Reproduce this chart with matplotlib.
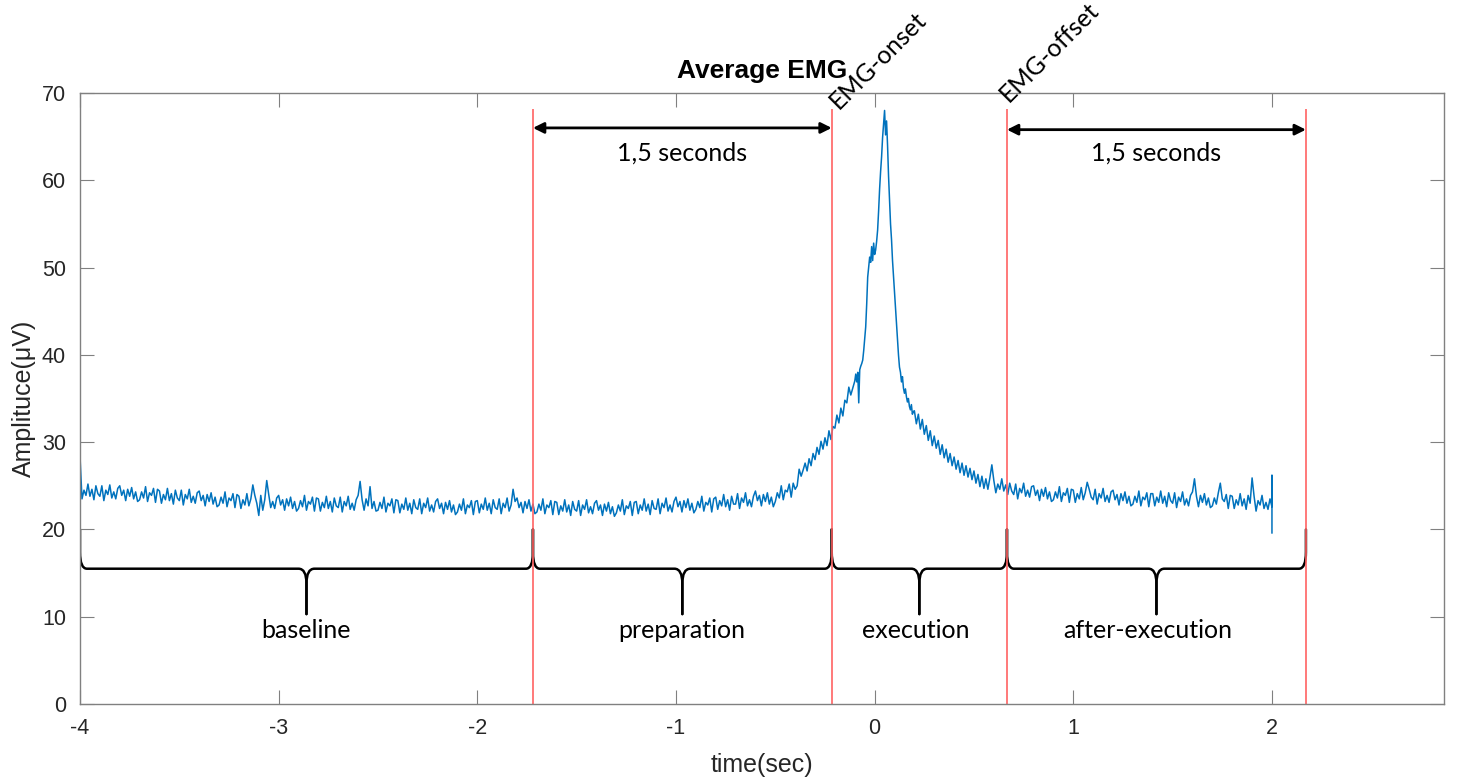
import matplotlib
matplotlib.use("Agg")
import matplotlib.pyplot as plt
from matplotlib.path import Path
from matplotlib.patches import PathPatch
import numpy as np

plt.rcParams["font.family"] = ["Liberation Sans", "DejaVu Sans"]
plt.rcParams["axes.unicode_minus"] = False

# averaged EMG trace (uV)
# -4.00 .. -0.12 s, 0.01 s apart
emg_pre = [
    28.4, 23.5, 24.5, 23.9, 25.2, 23.8, 24.6, 23.4, 25.0, 24.1,
    23.8, 25.0, 23.3, 24.5, 24.0, 25.1, 23.6, 24.3, 23.5, 24.7,
    25.0, 23.9, 24.5, 23.3, 24.6, 23.8, 24.8, 23.5, 24.3, 23.2,
    23.4, 24.3, 23.6, 24.9, 23.2, 24.2, 23.9, 24.7, 23.1, 24.6,
    24.4, 23.0, 24.0, 23.4, 24.7, 23.3, 24.1, 22.9, 24.5, 23.6,
    23.3, 24.5, 22.8, 24.0, 23.5, 24.6, 23.1, 23.8, 23.0, 24.2,
    24.4, 23.3, 23.9, 22.7, 24.0, 23.2, 24.2, 22.9, 23.7, 22.6,
    22.8, 23.7, 23.0, 24.3, 22.6, 23.6, 23.3, 24.1, 22.5, 24.0,
    23.8, 22.4, 23.4, 22.8, 24.1, 22.7, 23.5, 25.1, 23.9, 23.0,
    21.6, 23.9, 22.2, 23.4, 25.6, 24.0, 22.5, 23.2, 22.4, 23.6,
    23.9, 22.8, 23.4, 22.2, 23.5, 22.7, 23.7, 22.4, 23.2, 22.1,
    22.4, 23.3, 22.6, 23.9, 22.2, 23.2, 22.9, 23.7, 22.1, 23.6,
    23.5, 22.1, 23.1, 22.5, 23.8, 22.4, 23.2, 22.0, 23.6, 22.7,
    22.5, 23.7, 22.0, 23.2, 22.7, 23.8, 22.3, 23.0, 22.2, 23.4,
    23.9, 25.5, 23.4, 22.2, 23.5, 22.7, 24.9, 22.4, 23.2, 22.1,
    22.2, 23.1, 22.4, 23.7, 22.0, 23.0, 22.7, 23.5, 21.9, 23.4,
    23.3, 21.9, 22.9, 22.3, 23.6, 22.2, 23.0, 21.8, 23.4, 22.5,
    22.3, 23.5, 21.8, 23.0, 22.5, 23.6, 22.1, 22.8, 22.0, 23.2,
    23.5, 22.4, 23.0, 21.8, 23.1, 22.3, 23.3, 22.0, 22.8, 21.7,
    22.0, 22.9, 22.2, 23.5, 21.8, 22.8, 22.5, 23.3, 21.7, 23.2,
    23.3, 21.9, 22.9, 22.3, 23.6, 22.2, 23.0, 21.8, 23.4, 22.5,
    22.3, 23.5, 21.8, 23.0, 22.5, 23.6, 22.1, 22.8, 24.6, 23.2,
    23.6, 22.5, 23.1, 21.9, 23.2, 22.4, 23.4, 22.1, 22.9, 21.8,
    22.0, 22.9, 22.2, 23.5, 21.8, 22.8, 22.5, 23.3, 21.7, 23.2,
    23.1, 21.7, 22.7, 22.1, 23.4, 22.0, 22.8, 21.6, 23.2, 22.3,
    22.1, 23.3, 21.6, 22.8, 22.3, 23.4, 21.9, 22.6, 21.8, 23.0,
    23.3, 22.2, 22.8, 21.6, 22.9, 22.1, 23.1, 21.8, 22.6, 21.5,
    21.9, 22.8, 22.1, 23.4, 21.7, 22.7, 22.4, 23.2, 21.6, 23.1,
    23.2, 21.8, 22.8, 22.2, 23.5, 22.1, 22.9, 21.7, 23.3, 22.4,
    22.3, 23.5, 21.8, 23.0, 22.5, 23.6, 22.1, 22.8, 22.0, 23.2,
    23.7, 22.6, 23.2, 22.0, 23.3, 22.5, 23.5, 22.2, 23.0, 21.9,
    22.3, 23.2, 22.5, 23.8, 22.1, 23.1, 22.8, 23.6, 22.0, 23.5,
    23.7, 22.3, 23.3, 22.7, 24.0, 22.6, 23.4, 22.2, 23.8, 22.9,
    22.9, 24.1, 22.4, 23.6, 23.1, 24.2, 22.7, 23.4, 22.6, 23.8,
    24.4, 23.3, 23.9, 22.7, 24.0, 23.2, 24.2, 22.9, 23.7, 22.6,
    23.2, 24.2, 23.6, 25.0, 23.4, 24.5, 24.3, 25.2, 23.7, 25.3,
    24.6, 25.0, 26.9, 26.1, 26.8, 27.6, 26.7, 28.1, 27.3, 28.7,
    28.0, 29.4, 28.6, 30.1, 29.2, 30.5, 29.6, 31.3, 30.3, 31.8,
    31.6, 33.1, 32.2, 33.9, 33.0, 34.8, 34.5, 36.3, 35.4,
]
# -0.100 .. 0.195 s, 0.005 s apart
emg_peak = [
    37.0, 37.8, 36.9, 38.0, 34.5, 38.3, 38.7, 39.0, 39.4, 40.5,
    41.8, 43.2, 45.8, 48.9, 50.0, 51.2, 50.6, 52.4, 50.8, 52.8,
    51.5, 52.0, 53.0, 54.3, 56.5, 59.0, 61.0, 62.7, 64.9, 66.5,
    68.0, 65.2, 66.8, 64.0, 60.5, 57.8, 55.0, 53.2, 50.8, 49.0,
    47.4, 45.6, 43.5, 42.0, 40.0, 38.6, 38.0, 36.9, 37.5, 36.2,
    35.6, 36.1, 35.2, 34.6, 35.0, 34.1, 33.7, 34.3, 33.2, 33.5,
]
# 0.20 .. 2.00 s, 0.01 s apart
emg_post = [
    33.6, 32.1, 33.2, 31.5, 32.6, 30.9, 31.9, 30.2, 31.3, 29.6,
    30.7, 29.3, 30.2, 28.6, 29.7, 28.2, 29.2, 27.7, 28.7, 27.3,
    28.3, 26.9, 27.9, 26.5, 27.6, 26.2, 27.3, 26.0, 27.0, 25.7,
    26.7, 25.3, 26.3, 24.9, 26.1, 24.7, 25.8, 24.6, 25.9, 27.4,
    25.6, 24.2, 25.2, 24.6, 25.8, 24.4, 25.1, 24.0, 25.3, 24.4,
    24.0, 25.2, 23.5, 24.7, 24.2, 25.3, 23.8, 24.5, 23.7, 24.9,
    25.0, 23.9, 24.5, 23.3, 24.6, 23.8, 24.8, 23.5, 24.3, 23.2,
    23.4, 24.3, 23.6, 24.9, 23.2, 24.2, 23.9, 24.7, 23.1, 24.6,
    24.5, 23.1, 24.1, 23.5, 24.8, 23.4, 24.2, 25.4, 24.6, 23.7,
    23.4, 24.6, 22.9, 24.1, 23.6, 24.7, 23.2, 23.9, 23.1, 24.3,
    24.5, 23.4, 24.0, 22.8, 24.1, 23.3, 24.3, 23.0, 23.8, 22.7,
    22.9, 23.8, 23.1, 24.4, 22.7, 23.7, 23.4, 24.2, 22.6, 24.1,
    24.1, 22.7, 23.7, 23.1, 24.4, 23.0, 23.8, 22.6, 24.2, 23.3,
    23.0, 24.2, 22.5, 23.7, 23.2, 24.3, 22.8, 23.5, 22.7, 23.9,
    24.3, 25.8, 23.8, 22.6, 23.9, 23.1, 24.1, 22.8, 23.6, 22.5,
    22.7, 23.6, 22.9, 24.2, 25.3, 23.5, 23.2, 24.0, 22.4, 23.9,
    23.8, 22.4, 23.4, 22.8, 24.1, 22.7, 23.5, 22.3, 23.9, 23.0,
    25.9, 23.8, 22.1, 23.3, 22.8, 23.9, 22.4, 23.1, 22.3, 23.5,
    22.6,
]
edge_start = [0.0]          # first sample at -4 s
edge_end = [26.2, 19.6]     # last samples at 2 s

# phase boundaries (s) and names
bounds = [-4.0, -1.72, -0.216, 0.666, 2.171]
phases = ["baseline", "preparation", "execution", "after-execution"]
phase_label_x = [-2.86, -0.97, 0.206, 1.374]

t = np.concatenate([
    [-4.0],
    np.linspace(-4.0, -0.12, len(emg_pre)),
    np.linspace(-0.10, 0.195, len(emg_peak)),
    np.linspace(0.20, 2.0, len(emg_post)),
    [2.0, 2.0],
])
emg = np.concatenate([edge_start, emg_pre, emg_peak, emg_post, edge_end])

fig = plt.figure(figsize=(14.62, 7.81), dpi=100)
ax = fig.add_axes([80 / 1462, 77 / 781, 1364 / 1462, 611 / 781])

ax.plot(t, emg, color="#0072BD", lw=1.1)
ax.vlines(bounds[1:], 0, 68.2, color="#ff6262", lw=1.2)

ax.set_xlim(-4, 2.866)
ax.set_ylim(0, 70)
ax.set_xticks(range(-4, 3))
ax.set_yticks(range(0, 71, 10))
ax.tick_params(direction="in", length=10, width=0.8, top=True, right=True,
               color="#808080", labelcolor="#262626", labelsize=15.5, pad=10)
for sp in ax.spines.values():
    sp.set_color("#808080")
    sp.set_linewidth(1.0)
ax.set_xlabel("time(sec)", fontsize=18, color="#262626", labelpad=10)
ax.set_ylabel("Amplituce(\u03bcV)", fontsize=18, color="#262626", labelpad=4)
ax.set_title("Average EMG", fontsize=19, fontweight="bold", pad=11)

note_font = "Lato"
note_size = 18

# curly braces under the trace
def brace(x0, x1, ytip=20.0, yflat=15.5, ybot=10.3):
    xm = (x0 + x1) / 2
    for xe, s in ((x0, 1), (x1, -1)):
        verts = [(xe, ytip), (xe, yflat + 1.9), (xe, yflat), (xe + s * 0.035, yflat),
                 (xm - s * 0.04, yflat), (xm, yflat), (xm, yflat - 1.7), (xm, ybot)]
        codes = [Path.MOVETO, Path.LINETO, Path.CURVE3, Path.CURVE3,
                 Path.LINETO, Path.CURVE3, Path.CURVE3, Path.LINETO]
        ax.add_patch(PathPatch(Path(verts, codes), fill=False, ec="black",
                               lw=1.8, capstyle="round", joinstyle="round"))

for i, name in enumerate(phases):
    brace(bounds[i], bounds[i + 1])
    ax.text(phase_label_x[i], 8.4, name, ha="center", va="center",
            fontsize=note_size, family=note_font)

# 1,5 second arrows
for (a, b), y in (((bounds[1], bounds[2]), 66.0), ((bounds[3], bounds[4]), 65.8)):
    ax.annotate("", xy=(b, y), xytext=(a, y),
                arrowprops=dict(arrowstyle="<|-|>", color="black", lw=2,
                                mutation_scale=16, shrinkA=0, shrinkB=0))
    ax.text((a + b) / 2, 63.1, "1,5 seconds", ha="center", va="center",
            fontsize=note_size, family=note_font)

ax.text(-0.18, 68.1, "EMG-onset", rotation=45, rotation_mode="anchor",
        ha="left", va="baseline", fontsize=note_size, family=note_font, clip_on=False)
ax.text(0.675, 68.8, "EMG-offset", rotation=45, rotation_mode="anchor",
        ha="left", va="baseline", fontsize=note_size, family=note_font, clip_on=False)

fig.savefig("out.png", dpi=100)
